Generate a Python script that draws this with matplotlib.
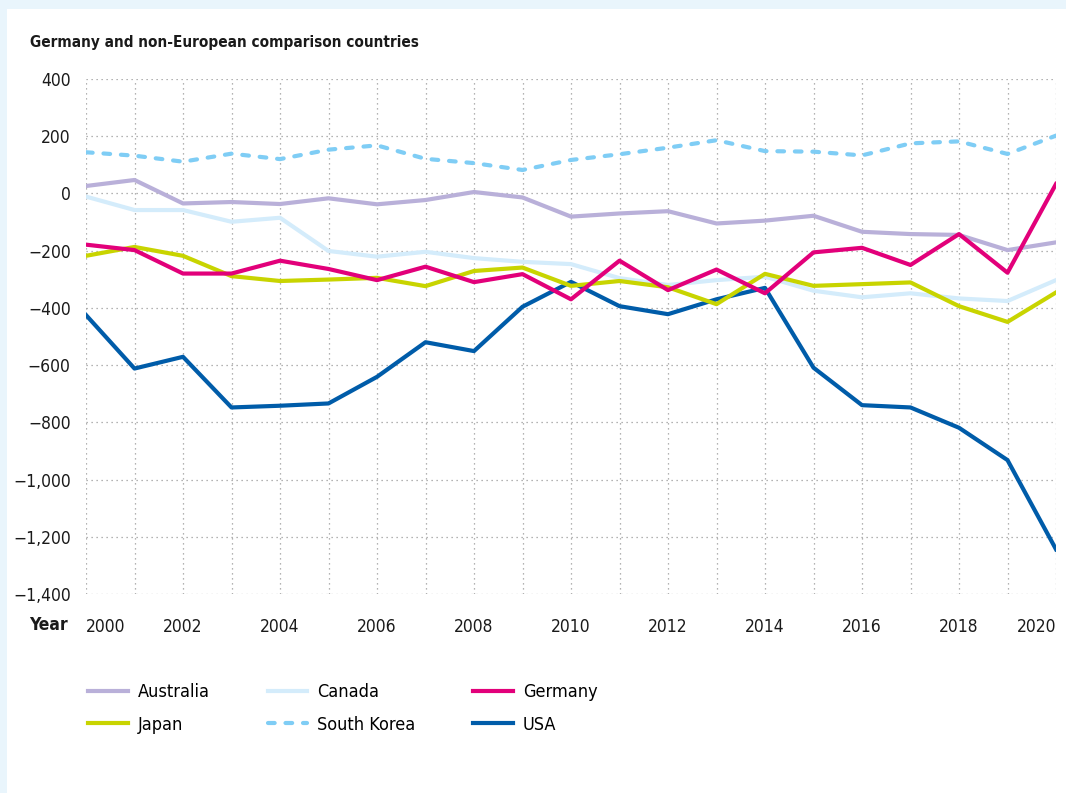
import numpy as np
import matplotlib.pyplot as plt
from matplotlib.patches import Rectangle

years = list(range(2000, 2021))
australia = [26, 47, -35, -30, -37, -17, -38, -23, 5, -14, -81, -70, -62, -105, -95, -78, -134, -142, -145, -198, -171]
canada = [-11, -58, -58, -99, -85, -201, -221, -204, -226, -239, -247, -296, -320, -303, -291, -340, -363, -349, -367, -376, -303]
germany = [-179, -198, -280, -280, -235, -264, -303, -256, -310, -282, -370, -235, -338, -266, -349, -206, -190, -250, -142, -277, 33]
japan = [-218, -187, -218, -289, -306, -301, -295, -324, -271, -259, -323, -306, -328, -387, -281, -323, -317, -311, -394, -449, -346]
south_korea = [144, 132, 111, 139, 120, 153, 168, 121, 106, 82, 117, 137, 160, 186, 148, 146, 133, 175, 182, 138, 202]
usa = [-425, -612, -571, -748, -742, -734, -641, -520, -551, -396, -309, -394, -422, -370, -330, -609, -740, -748, -819, -932, -1244]

yticks = list(range(-1400, 401, 200))
xticks = list(range(2000, 2021, 2))


def main():
    plt.rcParams['font.family'] = ['DejaVu Sans']
    plt.rcParams['font.stretch'] = 'condensed'
    fig = plt.figure(figsize=(10.66, 7.93), dpi=100)
    fig.patch.set_facecolor('#e9f5fc')
    fig.patches.append(Rectangle((7 / 1066, 0), 1, 1 - 9 / 793, transform=fig.transFigure,
                                 facecolor='white', edgecolor='none', zorder=-10))

    ax = fig.add_axes([86 / 1066, 1 - 594 / 793, 970 / 1066, 515 / 793])
    ax.set_facecolor('none')

    lw = 3.0
    ax.plot(years, canada, color='#d4ecfb', lw=lw, label='Canada', zorder=3)
    ax.plot(years, australia, color='#b9b0d9', lw=lw, label='Australia', zorder=3)
    ax.plot(years, south_korea, color='#7fcdf5', lw=lw, ls=(0, (1.6, 2.6)),
            dash_capstyle='round', label='South Korea', zorder=3)
    ax.plot(years, usa, color='#005ca9', lw=lw, label='USA', zorder=4)
    ax.plot(years, japan, color='#c8d400', lw=lw, label='Japan', zorder=5)
    ax.plot(years, germany, color='#e2007a', lw=lw, label='Germany', zorder=6)

    ax.set_xlim(2000, 2020)
    ax.set_ylim(-1400, 400)
    ax.set_xticks(range(2000, 2021))
    ax.set_yticks(yticks)
    ax.set_yticklabels(['{:,}'.format(v).replace('-', '\u2212') for v in yticks])
    ax.set_xticklabels([str(y) if y % 2 == 0 else '' for y in range(2000, 2021)])
    ax.grid(True, color='#9a9a9a', ls=(0, (1, 3)), lw=0.9)
    for s in ax.spines.values():
        s.set_visible(False)
    ax.tick_params(length=0, labelsize=12.5, colors='#1a1a1a')
    ax.tick_params(axis='x', pad=17)
    ax.tick_params(axis='y', pad=11)
    xl = ax.get_xticklabels()
    xl[0].set_horizontalalignment('left')
    xl[-1].set_horizontalalignment('right')

    fig.text(30 / 1066, 1 - 42 / 793, 'Germany and non-European comparison countries',
             fontsize=11, fontweight='bold', va='center', color='#1a1a1a')
    fig.text(68 / 1066, 1 - 625 / 793, 'Year', fontsize=12.5, fontweight='bold',
             ha='right', va='center', color='#1a1a1a')

    h, l = ax.get_legend_handles_labels()
    d = dict(zip(l, h))
    order = ['Australia', 'Japan', 'Canada', 'South Korea', 'Germany', 'USA']
    fig.legend([d[k] for k in order], order, ncol=3, frameon=False,
               loc='upper left', bbox_to_anchor=(72 / 1066, 1 - 667 / 793),
               fontsize=13, handlelength=2.2, columnspacing=3.2, labelspacing=0.8,
               handletextpad=0.55)

    fig.savefig('out.png', dpi=100, facecolor=fig.get_facecolor())


if __name__ == '__main__':
    main()
